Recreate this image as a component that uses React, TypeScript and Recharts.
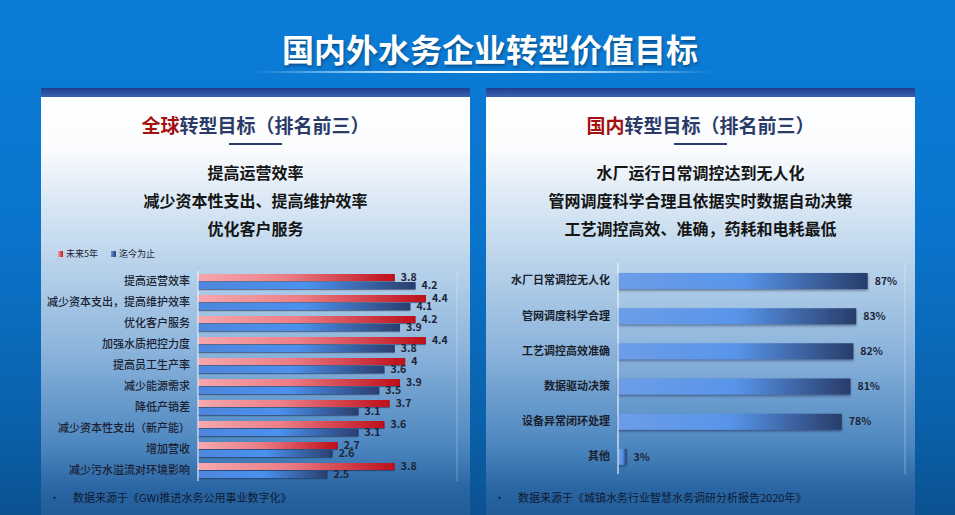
import React from 'react'
import { BarChart, Bar, XAxis, YAxis, CartesianGrid, LabelList } from 'recharts'

const FONT = "'Noto Sans CJK SC', 'Noto Sans', sans-serif"

// 全球转型目标
const globalCategories = [
  '提高运营效率',
  '减少资本支出，提高维护效率',
  '优化客户服务',
  '加强水质把控力度',
  '提高员工生产率',
  '减少能源需求',
  '降低产销差',
  '减少资本性支出（新产能）',
  '增加营收',
  '减少污水溢流对环境影响',
]
const next5Years = [3.8, 4.4, 4.2, 4.4, 4, 3.9, 3.7, 3.6, 2.7, 3.8]
const toDate = [4.2, 4.1, 3.9, 3.8, 3.6, 3.5, 3.1, 3.1, 2.6, 2.5]
const globalTicks = [0, 1, 2, 3, 4, 5]

// 国内转型目标
const domesticCategories = [
  '水厂日常调控无人化',
  '管网调度科学合理',
  '工艺调控高效准确',
  '数据驱动决策',
  '设备异常闭环处理',
  '其他',
]
const domesticShare = [87, 83, 82, 81, 78, 3]
const domesticTicks = [0, 20, 40, 60, 80, 100]

const globalTop3 = ['提高运营效率', '减少资本性支出、提高维护效率', '优化客户服务']
const domesticTop3 = [
  '水厂运行日常调控达到无人化',
  '管网调度科学合理且依据实时数据自动决策',
  '工艺调控高效、准确，药耗和电耗最低',
]

const globalData = globalCategories.map((name, i) => ({
  name,
  next: next5Years[i],
  now: toDate[i],
}))
const domesticData = domesticCategories.map((name, i) => ({
  name,
  value: domesticShare[i],
}))

function Panel({
  left,
  highlight,
  rest,
  lines,
  source,
}: {
  left: number
  highlight: string
  rest: string
  lines: string[]
  source: string
}) {
  return (
    <div
      style={{
        position: 'absolute',
        left,
        top: 88,
        width: 429,
        height: 427,
        background:
          'linear-gradient(to bottom, #ffffff 0px, #fbfcfe 60px, #dce9f5 110px, #c4daee 155px, #8db5dc 260px, #4b85bf 360px, #2a66a3 400px, #215c99 427px)',
      }}
    >
      <div
        style={{
          height: 9,
          background: 'linear-gradient(to bottom, #1f3f8c, #3a62b4)',
        }}
      />
      <div
        style={{
          position: 'absolute',
          top: 24,
          width: '100%',
          textAlign: 'center',
          fontSize: 19,
          fontWeight: 700,
          color: '#2b3b67',
          lineHeight: '26px',
        }}
      >
        <span style={{ color: '#a3100f' }}>{highlight}</span>
        {rest}
      </div>
      <div
        style={{
          position: 'absolute',
          top: 55,
          left: 188,
          width: 53,
          height: 2,
          background: '#2c3e6a',
        }}
      />
      {lines.map((t, i) => (
        <div
          key={t}
          style={{
            position: 'absolute',
            top: 73 + i * 28,
            width: '100%',
            textAlign: 'center',
            fontSize: 16,
            fontWeight: 700,
            color: '#151515',
            lineHeight: '22px',
          }}
        >
          {t}
        </div>
      ))}
      <div
        style={{
          position: 'absolute',
          top: 401,
          left: 8,
          fontSize: 11,
          color: '#0e1b33',
          lineHeight: '16px',
          whiteSpace: 'nowrap',
        }}
      >
        <span style={{ display: 'inline-block', width: 24 }}>•</span>
        {source}
      </div>
    </div>
  )
}

const valueLabel = {
  fill: '#1b2436',
  fontSize: 10.5,
  fontWeight: 700,
  fontFamily: FONT,
}

export default function App() {
  return (
    <div
      style={{
        position: 'absolute',
        left: 0,
        top: 0,
        width: 955,
        height: 515,
        overflow: 'hidden',
        fontFamily: FONT,
        background: 'linear-gradient(to bottom, #0b7dd7 0%, #0a74cc 45%, #0a62ad 80%, #0b5291 100%)',
      }}
    >
      <div
        style={{
          position: 'absolute',
          top: 28,
          left: 0,
          width: 980,
          textAlign: 'center',
          fontSize: 32,
          fontWeight: 700,
          color: '#ffffff',
          lineHeight: '40px',
          textShadow: '1px 2px 3px rgba(0,0,0,0.35)',
        }}
      >
        国内外水务企业转型价值目标
      </div>
      <div
        style={{
          position: 'absolute',
          top: 71,
          left: 250,
          width: 465,
          height: 2,
          background:
            'linear-gradient(to right, rgba(255,255,255,0), rgba(200,235,255,0.9) 30%, rgba(255,255,255,1) 50%, rgba(200,235,255,0.9) 70%, rgba(255,255,255,0))',
        }}
      />

      <Panel
        left={41}
        highlight="全球"
        rest="转型目标（排名前三）"
        lines={globalTop3}
        source="数据来源于《GWI推进水务公用事业数字化》"
      />
      <Panel
        left={486}
        highlight="国内"
        rest="转型目标（排名前三）"
        lines={domesticTop3}
        source="数据来源于《城镇水务行业智慧水务调研分析报告2020年》"
      />

      {/* legend */}
      <div
        style={{
          position: 'absolute',
          left: 58,
          top: 247,
          fontSize: 9,
          color: '#1b2436',
          lineHeight: '14px',
          whiteSpace: 'nowrap',
        }}
      >
        <span
          style={{
            display: 'inline-block',
            width: 5,
            height: 6,
            marginRight: 3,
            background: 'linear-gradient(to right, #f3a0a8, #c41520)',
          }}
        />
        未来5年
        <span
          style={{
            display: 'inline-block',
            width: 5,
            height: 6,
            marginLeft: 13,
            marginRight: 3,
            background: 'linear-gradient(to right, #5b93e6, #2a4070)',
          }}
        />
        迄今为止
      </div>

      <div style={{ position: 'absolute', left: 41, top: 240 }}>
        <BarChart
          width={430}
          height={250}
          data={globalData}
          layout="vertical"
          margin={{ top: 31, right: 14, bottom: 9, left: 7 }}
          barSize={7}
          barGap={1}
        >
          <defs>
            <linearGradient id="gRed" x1="0" y1="0" x2="1" y2="0">
              <stop offset="0%" stopColor="#f6a8ae" />
              <stop offset="45%" stopColor="#ec7d86" />
              <stop offset="100%" stopColor="#bd0f19" />
            </linearGradient>
            <linearGradient id="gBlueL" x1="0" y1="0" x2="1" y2="0">
              <stop offset="0%" stopColor="#4e86dc" />
              <stop offset="50%" stopColor="#4b91ee" />
              <stop offset="100%" stopColor="#2a3f6e" />
            </linearGradient>
            <filter id="shL" x="-5%" y="-50%" width="110%" height="250%">
              <feDropShadow dx="0" dy="1.2" stdDeviation="0.6" floodColor="#1a2a50" floodOpacity="0.55" />
            </filter>
          </defs>
          <CartesianGrid horizontal={false} stroke="rgba(255,255,255,0.3)" />
          <XAxis
            type="number"
            domain={[0, 5]}
            ticks={globalTicks}
            tick={false}
            tickLine={false}
            axisLine={false}
            height={0}
          />
          <YAxis
            type="category"
            dataKey="name"
            width={150}
            tickLine={false}
            axisLine={{ stroke: '#e8f0f9' }}
            interval={0}
            tick={{ fill: '#1a1f33', fontSize: 11, fontWeight: 500, fontFamily: FONT }}
          />
          <Bar dataKey="next" fill="url(#gRed)" filter="url(#shL)" isAnimationActive={false}>
            <LabelList dataKey="next" position="right" offset={6} style={valueLabel} />
          </Bar>
          <Bar dataKey="now" fill="url(#gBlueL)" filter="url(#shL)" isAnimationActive={false}>
            <LabelList dataKey="now" position="right" offset={6} style={valueLabel} />
          </Bar>
        </BarChart>
      </div>

      <div style={{ position: 'absolute', left: 486, top: 240 }}>
        <BarChart
          width={429}
          height={250}
          data={domesticData}
          layout="vertical"
          margin={{ top: 23, right: 10, bottom: 16, left: 7 }}
          barSize={16}
        >
          <defs>
            <linearGradient id="gBlueR" x1="0" y1="0" x2="1" y2="0">
              <stop offset="0%" stopColor="#6d9de7" />
              <stop offset="50%" stopColor="#5895ea" />
              <stop offset="100%" stopColor="#283c69" />
            </linearGradient>
            <filter id="shR" x="-5%" y="-30%" width="110%" height="170%">
              <feDropShadow dx="0" dy="1.5" stdDeviation="0.8" floodColor="#1a2a50" floodOpacity="0.55" />
            </filter>
          </defs>
          <CartesianGrid horizontal={false} stroke="rgba(255,255,255,0.35)" />
          <XAxis
            type="number"
            domain={[0, 100]}
            ticks={domesticTicks}
            tick={false}
            tickLine={false}
            axisLine={false}
            height={0}
          />
          <YAxis
            type="category"
            dataKey="name"
            width={125}
            tickLine={false}
            axisLine={{ stroke: '#e8f0f9' }}
            interval={0}
            tick={{ fill: '#1a1f2e', fontSize: 11, fontWeight: 700, fontFamily: FONT }}
          />
          <Bar dataKey="value" fill="url(#gBlueR)" filter="url(#shR)" isAnimationActive={false}>
            <LabelList
              dataKey="value"
              position="right"
              offset={7}
              formatter={(v: number) => `${v}%`}
              style={valueLabel}
            />
          </Bar>
        </BarChart>
      </div>
    </div>
  )
}
